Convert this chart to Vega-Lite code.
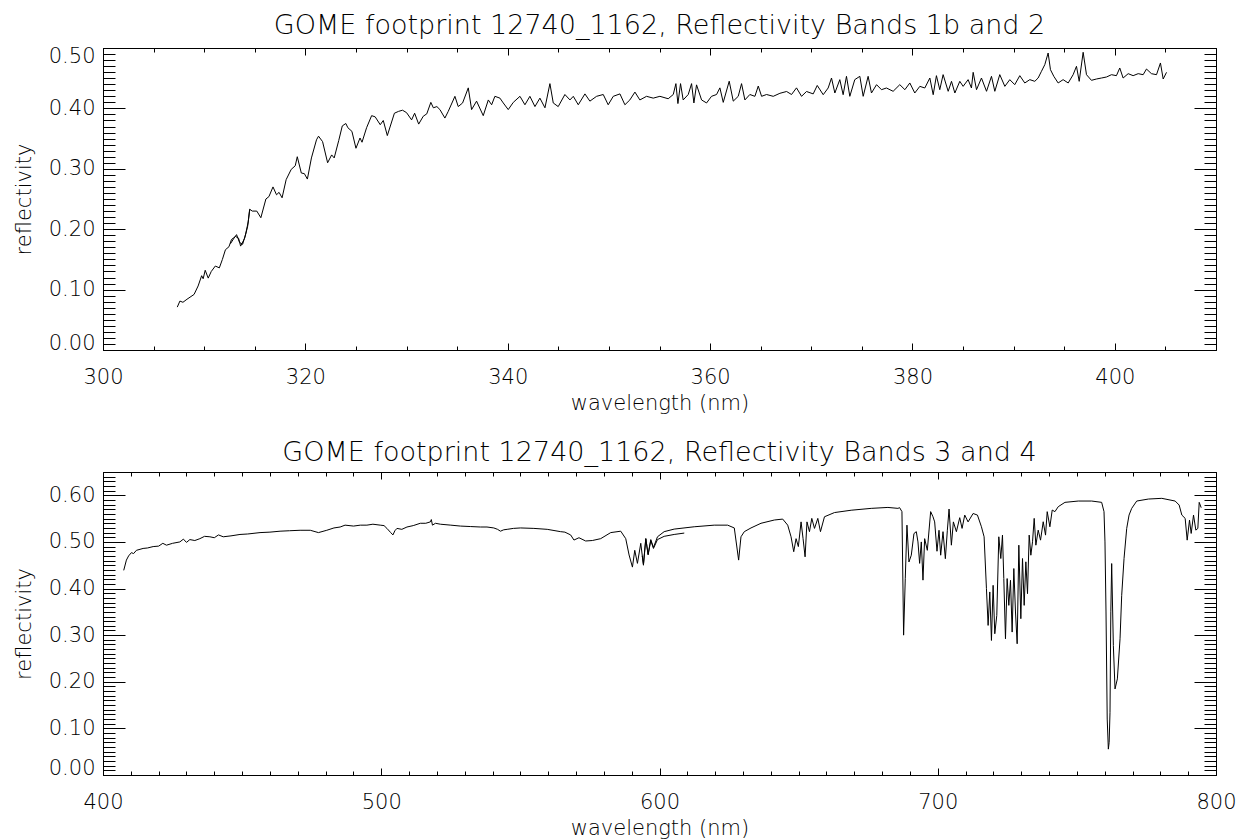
{
"$schema": "https://vega.github.io/schema/vega-lite/v6.json",
"padding": {"left": 12, "top": 11, "right": 0, "bottom": 0},
"background": "white",
"spacing": 24,
"config": {
  "view": {"stroke": "black", "strokeWidth": 1},
  "font": "DejaVu Sans",
  "title": {"fontSize": 27, "fontWeight": 200, "color": "black", "offset": 5, "font": "DejaVu Sans"},
  "axis": {"domain": false, "grid": false, "tickColor": "black", "tickWidth": 1, "labelColor": "black", "titleColor": "black", "labelFontSize": 21, "titleFontSize": 21, "labelFontWeight": 200, "titleFontWeight": 200, "labelFont": "DejaVu Sans", "titleFont": "DejaVu Sans", "labelOverlap": false},
  "line": {"color": "black", "strokeWidth": 1}
},
"datasets": {
  "top": [
    {"wl":307.34,"r":0.071,"band":"1b"},{"wl":307.6,"r":0.081,"band":"1b"},{"wl":307.9,"r":0.079,"band":"1b"},{"wl":308.3,"r":0.084,"band":"1b"},{"wl":309.0,"r":0.092,"band":"1b"},{"wl":309.4,"r":0.106,"band":"1b"},{"wl":309.75,"r":0.123,"band":"1b"},{"wl":309.9,"r":0.118,"band":"1b"},{"wl":310.1,"r":0.132,"band":"1b"},{"wl":310.4,"r":0.119,"band":"1b"},{"wl":310.7,"r":0.130,"band":"1b"},{"wl":311.1,"r":0.139,"band":"1b"},{"wl":311.5,"r":0.136,"band":"1b"},{"wl":311.8,"r":0.150,"band":"1b"},{"wl":312.1,"r":0.166,"band":"1b"},{"wl":312.45,"r":0.171,"band":"1b"},{"wl":312.7,"r":0.183,"band":"1b"},{"wl":313.1,"r":0.188,"band":"1b"},{"wl":313.4,"r":0.185,"band":"1b"},{"wl":313.6,"r":0.172,"band":"1b"},{"wl":314.0,"r":0.185,"band":"1b"},{"wl":314.3,"r":0.205,"band":"1b"},{"wl":314.5,"r":0.233,"band":"1b"},
    {"wl":312.6,"r":0.176,"band":"2"},{"wl":312.9,"r":0.184,"band":"2"},{"wl":313.2,"r":0.191,"band":"2"},{"wl":313.5,"r":0.178,"band":"2"},{"wl":313.8,"r":0.175,"band":"2"},{"wl":314.1,"r":0.192,"band":"2"},{"wl":314.35,"r":0.212,"band":"2"},{"wl":314.5,"r":0.233,"band":"2"},
    {"wl":314.75,"r":0.230,"band":"2"},{"wl":315.2,"r":0.230,"band":"2"},{"wl":315.6,"r":0.219,"band":"2"},{"wl":316.1,"r":0.250,"band":"2"},{"wl":316.4,"r":0.254,"band":"2"},{"wl":316.8,"r":0.270,"band":"2"},{"wl":317.15,"r":0.257,"band":"2"},{"wl":317.4,"r":0.261,"band":"2"},{"wl":317.7,"r":0.252,"band":"2"},{"wl":318.1,"r":0.282,"band":"2"},{"wl":318.6,"r":0.299,"band":"2"},{"wl":319.0,"r":0.305,"band":"2"},{"wl":319.2,"r":0.320,"band":"2"},{"wl":319.6,"r":0.293,"band":"2"},{"wl":319.9,"r":0.292,"band":"2"},{"wl":320.2,"r":0.283,"band":"2"},{"wl":320.6,"r":0.318,"band":"2"},{"wl":321.1,"r":0.348,"band":"2"},{"wl":321.3,"r":0.354,"band":"2"},{"wl":321.7,"r":0.345,"band":"2"},{"wl":322.2,"r":0.310,"band":"2"},{"wl":322.6,"r":0.323,"band":"2"},{"wl":322.85,"r":0.318,"band":"2"},{"wl":323.3,"r":0.347,"band":"2"},{"wl":323.65,"r":0.371,"band":"2"},{"wl":324.0,"r":0.375,"band":"2"},{"wl":324.2,"r":0.368,"band":"2"},{"wl":324.6,"r":0.362,"band":"2"},{"wl":325.0,"r":0.334,"band":"2"},{"wl":325.4,"r":0.351,"band":"2"},{"wl":325.6,"r":0.344,"band":"2"},{"wl":326.05,"r":0.368,"band":"2"},{"wl":326.55,"r":0.388,"band":"2"},{"wl":326.9,"r":0.386,"band":"2"},{"wl":327.4,"r":0.373,"band":"2"},{"wl":327.7,"r":0.380,"band":"2"},{"wl":328.1,"r":0.355,"band":"2"},{"wl":328.8,"r":0.392,"band":"2"},{"wl":329.2,"r":0.395,"band":"2"},{"wl":329.6,"r":0.397,"band":"2"},{"wl":330.0,"r":0.393,"band":"2"},{"wl":330.5,"r":0.381,"band":"2"},{"wl":330.8,"r":0.392,"band":"2"},{"wl":331.2,"r":0.374,"band":"2"},{"wl":331.65,"r":0.387,"band":"2"},{"wl":332.0,"r":0.391,"band":"2"},{"wl":332.4,"r":0.410,"band":"2"},{"wl":332.65,"r":0.401,"band":"2"},{"wl":333.0,"r":0.403,"band":"2"},{"wl":333.3,"r":0.398,"band":"2"},
    {"wl":333.79,"r":0.384,"band":"2"},{"wl":334.12,"r":0.395,"band":"2"},{"wl":334.78,"r":0.420,"band":"2"},{"wl":335.11,"r":0.403,"band":"2"},{"wl":335.54,"r":0.409,"band":"2"},{"wl":336.10,"r":0.434,"band":"2"},{"wl":336.43,"r":0.398,"band":"2"},{"wl":336.92,"r":0.412,"band":"2"},{"wl":337.58,"r":0.388,"band":"2"},{"wl":338.08,"r":0.414,"band":"2"},{"wl":338.41,"r":0.406,"band":"2"},{"wl":338.73,"r":0.420,"band":"2"},{"wl":339.23,"r":0.417,"band":"2"},{"wl":339.56,"r":0.409,"band":"2"},{"wl":340.05,"r":0.398,"band":"2"},{"wl":340.55,"r":0.410,"band":"2"},{"wl":341.21,"r":0.420,"band":"2"},{"wl":341.70,"r":0.406,"band":"2"},{"wl":342.19,"r":0.420,"band":"2"},{"wl":342.69,"r":0.403,"band":"2"},{"wl":343.18,"r":0.417,"band":"2"},{"wl":343.68,"r":0.401,"band":"2"},{"wl":344.17,"r":0.441,"band":"2"},{"wl":344.50,"r":0.409,"band":"2"},{"wl":344.99,"r":0.403,"band":"2"},{"wl":345.65,"r":0.423,"band":"2"},{"wl":346.15,"r":0.414,"band":"2"},{"wl":346.48,"r":0.420,"band":"2"},{"wl":346.97,"r":0.406,"band":"2"},{"wl":347.63,"r":0.424,"band":"2"},{"wl":348.12,"r":0.412,"band":"2"},{"wl":348.78,"r":0.420,"band":"2"},{"wl":349.44,"r":0.423,"band":"2"},{"wl":349.93,"r":0.406,"band":"2"},{"wl":350.43,"r":0.420,"band":"2"},{"wl":351.09,"r":0.424,"band":"2"},{"wl":351.58,"r":0.406,"band":"2"},{"wl":352.07,"r":0.414,"band":"2"},{"wl":352.57,"r":0.427,"band":"2"},{"wl":353.06,"r":0.414,"band":"2"},{"wl":353.72,"r":0.420,"band":"2"},{"wl":354.38,"r":0.417,"band":"2"},{"wl":355.04,"r":0.420,"band":"2"},{"wl":355.86,"r":0.416,"band":"2"},{"wl":356.36,"r":0.423,"band":"2"},{"wl":356.62,"r":0.441,"band":"2"},{"wl":356.82,"r":0.408,"band":"2"},{"wl":357.08,"r":0.441,"band":"2"},{"wl":357.34,"r":0.414,"band":"2"},{"wl":357.84,"r":0.423,"band":"2"},{"wl":358.17,"r":0.441,"band":"2"},{"wl":358.40,"r":0.409,"band":"2"},{"wl":358.66,"r":0.439,"band":"2"},{"wl":359.16,"r":0.414,"band":"2"},{"wl":359.65,"r":0.409,"band":"2"},{"wl":360.14,"r":0.420,"band":"2"},{"wl":360.64,"r":0.423,"band":"2"},{"wl":360.97,"r":0.434,"band":"2"},{"wl":361.30,"r":0.410,"band":"2"},{"wl":361.89,"r":0.445,"band":"2"},{"wl":362.29,"r":0.412,"band":"2"},{"wl":362.78,"r":0.420,"band":"2"},{"wl":363.11,"r":0.441,"band":"2"},{"wl":363.44,"r":0.414,"band":"2"},{"wl":363.93,"r":0.423,"band":"2"},{"wl":364.43,"r":0.420,"band":"2"},{"wl":364.76,"r":0.437,"band":"2"},{"wl":365.09,"r":0.420,"band":"2"},{"wl":365.58,"r":0.423,"band":"2"},{"wl":366.24,"r":0.420,"band":"2"},{"wl":366.90,"r":0.425,"band":"2"},{"wl":367.56,"r":0.428,"band":"2"},{"wl":368.05,"r":0.423,"band":"2"},{"wl":368.54,"r":0.434,"band":"2"},{"wl":369.04,"r":0.420,"band":"2"},{"wl":369.53,"r":0.428,"band":"2"},{"wl":370.19,"r":0.424,"band":"2"},{"wl":370.59,"r":0.438,"band":"2"},
    {"wl":371.18,"r":0.4227,"band":"2"},{"wl":371.67,"r":0.4338,"band":"2"},{"wl":372.00,"r":0.4503,"band":"2"},{"wl":372.33,"r":0.4255,"band":"2"},{"wl":372.82,"r":0.4476,"band":"2"},{"wl":373.15,"r":0.4227,"band":"2"},{"wl":373.48,"r":0.4531,"band":"2"},{"wl":373.81,"r":0.4200,"band":"2"},{"wl":374.30,"r":0.4476,"band":"2"},{"wl":374.80,"r":0.4531,"band":"2"},{"wl":375.13,"r":0.4200,"band":"2"},{"wl":375.62,"r":0.4531,"band":"2"},{"wl":375.95,"r":0.4255,"band":"2"},{"wl":376.45,"r":0.4393,"band":"2"},{"wl":376.94,"r":0.4310,"band":"2"},{"wl":377.43,"r":0.4338,"band":"2"},{"wl":378.09,"r":0.4283,"band":"2"},{"wl":378.75,"r":0.4393,"band":"2"},{"wl":379.25,"r":0.4310,"band":"2"},{"wl":379.74,"r":0.4421,"band":"2"},{"wl":380.23,"r":0.4255,"band":"2"},{"wl":380.73,"r":0.4365,"band":"2"},{"wl":381.22,"r":0.4338,"band":"2"},{"wl":381.72,"r":0.4503,"band":"2"},{"wl":382.05,"r":0.4227,"band":"2"},{"wl":382.37,"r":0.4542,"band":"2"},{"wl":382.70,"r":0.4310,"band":"2"},{"wl":383.03,"r":0.4559,"band":"2"},{"wl":383.53,"r":0.4283,"band":"2"},{"wl":383.86,"r":0.4448,"band":"2"},{"wl":384.19,"r":0.4255,"band":"2"},{"wl":384.68,"r":0.4448,"band":"2"},{"wl":385.01,"r":0.4365,"band":"2"},{"wl":385.50,"r":0.4476,"band":"2"},{"wl":385.83,"r":0.4338,"band":"2"},{"wl":386.00,"r":0.4597,"band":"2"},{"wl":386.33,"r":0.4310,"band":"2"},{"wl":386.82,"r":0.4503,"band":"2"},{"wl":387.32,"r":0.4283,"band":"2"},{"wl":387.81,"r":0.4531,"band":"2"},{"wl":388.14,"r":0.4283,"band":"2"},{"wl":388.63,"r":0.4559,"band":"2"},{"wl":389.13,"r":0.4365,"band":"2"},{"wl":389.62,"r":0.4476,"band":"2"},{"wl":390.11,"r":0.4393,"band":"2"},{"wl":390.61,"r":0.4542,"band":"2"},{"wl":391.10,"r":0.4421,"band":"2"},{"wl":391.60,"r":0.4476,"band":"2"},{"wl":392.09,"r":0.4448,"band":"2"},{"wl":392.42,"r":0.4503,"band":"2"},{"wl":392.75,"r":0.4614,"band":"2"},{"wl":393.08,"r":0.4724,"band":"2"},{"wl":393.41,"r":0.4917,"band":"2"},{"wl":393.64,"r":0.4641,"band":"2"},{"wl":393.97,"r":0.4531,"band":"2"},
    {"wl":394.40,"r":0.4421,"band":"2"},{"wl":394.89,"r":0.4476,"band":"2"},{"wl":395.39,"r":0.4421,"band":"2"},{"wl":395.88,"r":0.4558,"band":"2"},{"wl":396.21,"r":0.4697,"band":"2"},{"wl":396.48,"r":0.4448,"band":"2"},{"wl":396.87,"r":0.4929,"band":"2"},{"wl":397.20,"r":0.4558,"band":"2"},{"wl":397.69,"r":0.4465,"band":"2"},{"wl":398.19,"r":0.4487,"band":"2"},{"wl":398.68,"r":0.4503,"band":"2"},{"wl":399.18,"r":0.4520,"band":"2"},{"wl":399.67,"r":0.4558,"band":"2"},{"wl":400.16,"r":0.4542,"band":"2"},{"wl":400.49,"r":0.4669,"band":"2"},{"wl":400.82,"r":0.4503,"band":"2"},{"wl":401.32,"r":0.4575,"band":"2"},{"wl":401.81,"r":0.4542,"band":"2"},{"wl":402.31,"r":0.4575,"band":"2"},{"wl":402.80,"r":0.4558,"band":"2"},{"wl":403.13,"r":0.4652,"band":"2"},{"wl":403.62,"r":0.4575,"band":"2"},{"wl":404.12,"r":0.4558,"band":"2"},{"wl":404.51,"r":0.4752,"band":"2"},{"wl":404.78,"r":0.4487,"band":"2"},{"wl":405.11,"r":0.4597,"band":"2"}
  ],
  "bot": [
    {"wl":407.45,"r":0.439,"band":"3"},{"wl":408.41,"r":0.461,"band":"3"},{"wl":409.2,"r":0.470,"band":"3"},{"wl":410.21,"r":0.477,"band":"3"},{"wl":411.0,"r":0.475,"band":"3"},{"wl":412.01,"r":0.482,"band":"3"},{"wl":414.41,"r":0.486,"band":"3"},{"wl":416.0,"r":0.487,"band":"3"},{"wl":418.02,"r":0.490,"band":"3"},{"wl":420.0,"r":0.491,"band":"3"},{"wl":421.5,"r":0.497,"band":"3"},{"wl":422.82,"r":0.493,"band":"3"},{"wl":425.0,"r":0.497,"band":"3"},{"wl":427.62,"r":0.500,"band":"3"},{"wl":428.9,"r":0.506,"band":"3"},{"wl":430.0,"r":0.499,"band":"3"},{"wl":431.22,"r":0.505,"band":"3"},{"wl":433.0,"r":0.503,"band":"3"},{"wl":434.82,"r":0.507,"band":"3"},{"wl":436.5,"r":0.512,"band":"3"},{"wl":438.42,"r":0.511,"band":"3"},{"wl":440.0,"r":0.509,"band":"3"},{"wl":441.5,"r":0.515,"band":"3"},{"wl":443.22,"r":0.511,"band":"3"},{"wl":446.0,"r":0.513,"band":"3"},{"wl":449.23,"r":0.516,"band":"3"},{"wl":452.0,"r":0.517,"band":"3"},{"wl":456.43,"r":0.520,"band":"3"},{"wl":460.0,"r":0.521,"band":"3"},{"wl":463.63,"r":0.523,"band":"3"},{"wl":467.0,"r":0.524,"band":"3"},{"wl":470.83,"r":0.525,"band":"3"},{"wl":474.5,"r":0.525,"band":"3"},{"wl":477.43,"r":0.520,"band":"3"},{"wl":480.43,"r":0.525,"band":"3"},{"wl":483.0,"r":0.530,"band":"3"},{"wl":485.23,"r":0.532,"band":"3"},{"wl":487.0,"r":0.536,"band":"3"},{"wl":490.04,"r":0.534,"band":"3"},{"wl":492.5,"r":0.536,"band":"3"},{"wl":494.84,"r":0.536,"band":"3"},{"wl":497.0,"r":0.538,"band":"3"},{"wl":499.64,"r":0.536,"band":"3"},{"wl":501.0,"r":0.535,"band":"3"},{"wl":502.04,"r":0.529,"band":"3"},{"wl":503.4,"r":0.520,"band":"3"},{"wl":504.2,"r":0.515,"band":"3"},{"wl":504.9,"r":0.524,"band":"3"},{"wl":505.64,"r":0.529,"band":"3"},{"wl":507.4,"r":0.527,"band":"3"},{"wl":509.24,"r":0.532,"band":"3"},{"wl":511.5,"r":0.535,"band":"3"},{"wl":514.04,"r":0.540,"band":"3"},{"wl":516.0,"r":0.540,"band":"3"},{"wl":517.64,"r":0.543,"band":"3"},{"wl":518.0,"r":0.548,"band":"3"},{"wl":518.4,"r":0.536,"band":"3"},{"wl":519.5,"r":0.540,"band":"3"},{"wl":521.25,"r":0.538,"band":"3"},{"wl":525.0,"r":0.536,"band":"3"},{"wl":528.45,"r":0.534,"band":"3"},{"wl":532.0,"r":0.533,"band":"3"},{"wl":535.65,"r":0.532,"band":"3"},{"wl":538.0,"r":0.532,"band":"3"},{"wl":540.45,"r":0.530,"band":"3"},{"wl":541.8,"r":0.527,"band":"3"},{"wl":542.85,"r":0.523,"band":"3"},{"wl":544.0,"r":0.526,"band":"3"},{"wl":545.25,"r":0.527,"band":"3"},{"wl":547.5,"r":0.529,"band":"3"},{"wl":550.05,"r":0.530,"band":"3"},{"wl":554.85,"r":0.529,"band":"3"},{"wl":559.65,"r":0.527,"band":"3"},{"wl":564.46,"r":0.522,"band":"3"},{"wl":566.0,"r":0.521,"band":"3"},{"wl":568.06,"r":0.515,"band":"3"},{"wl":569.26,"r":0.504,"band":"3"},{"wl":571.06,"r":0.509,"band":"3"},{"wl":573.46,"r":0.502,"band":"3"},{"wl":575.86,"r":0.503,"band":"3"},{"wl":578.86,"r":0.507,"band":"3"},{"wl":582.47,"r":0.520,"band":"3"},{"wl":586.07,"r":0.523,"band":"3"},{"wl":587.87,"r":0.507,"band":"3"},{"wl":589.07,"r":0.472,"band":"3"},{"wl":590.27,"r":0.446,"band":"3"},{"wl":591.11,"r":0.482,"band":"3"},{"wl":592.07,"r":0.454,"band":"3"},{"wl":593.27,"r":0.497,"band":"3"},{"wl":594.23,"r":0.450,"band":"3"},{"wl":595.07,"r":0.507,"band":"3"},{"wl":595.91,"r":0.472,"band":"3"},{"wl":596.87,"r":0.503,"band":"3"},{"wl":597.83,"r":0.486,"band":"3"},{"wl":599.27,"r":0.505,"band":"3"},{"wl":601.67,"r":0.512,"band":"3"},{"wl":605.27,"r":0.516,"band":"3"},{"wl":608.9,"r":0.519,"band":"3"},
    {"wl":593.8,"r":0.470,"band":"4"},{"wl":594.23,"r":0.452,"band":"4"},{"wl":595.07,"r":0.507,"band":"4"},{"wl":595.91,"r":0.474,"band":"4"},{"wl":596.87,"r":0.505,"band":"4"},{"wl":597.83,"r":0.488,"band":"4"},{"wl":599.27,"r":0.511,"band":"4"},{"wl":601.67,"r":0.522,"band":"4"},{"wl":605.27,"r":0.5275,"band":"4"},{"wl":612.47,"r":0.5325,"band":"4"},{"wl":619.67,"r":0.536,"band":"4"},{"wl":624.48,"r":0.536,"band":"4"},{"wl":626.88,"r":0.530,"band":"4"},{"wl":628.44,"r":0.461,"band":"4"},{"wl":629.28,"r":0.511,"band":"4"},{"wl":630.48,"r":0.522,"band":"4"},{"wl":632.88,"r":0.530,"band":"4"},{"wl":636.48,"r":0.540,"band":"4"},{"wl":641.28,"r":0.547,"band":"4"},{"wl":644.28,"r":0.549,"band":"4"},{"wl":646.08,"r":0.536,"band":"4"},{"wl":647.28,"r":0.511,"band":"4"},{"wl":648.24,"r":0.479,"band":"4"},{"wl":649.08,"r":0.507,"band":"4"},{"wl":649.9,"r":0.490,"band":"4"},{"wl":650.88,"r":0.543,"band":"4"},{"wl":651.6,"r":0.507,"band":"4"},{"wl":652.32,"r":0.468,"band":"4"},{"wl":653.0,"r":0.543,"band":"4"},{"wl":653.9,"r":0.522,"band":"4"},{"wl":654.73,"r":0.5505,"band":"4"},{"wl":655.7,"r":0.529,"band":"4"},{"wl":656.9,"r":0.5505,"band":"4"},{"wl":657.85,"r":0.522,"band":"4"},{"wl":659.29,"r":0.554,"band":"4"},{"wl":662.89,"r":0.563,"band":"4"},{"wl":668.89,"r":0.568,"band":"4"},{"wl":676.09,"r":0.572,"band":"4"},{"wl":682.09,"r":0.574,"band":"4"},{"wl":685.69,"r":0.572,"band":"4"},{"wl":686.29,"r":0.5735,"band":"4"},{"wl":687.13,"r":0.565,"band":"4"},{"wl":687.73,"r":0.300,"band":"4"},{"wl":688.33,"r":0.421,"band":"4"},{"wl":688.93,"r":0.536,"band":"4"},{"wl":689.65,"r":0.457,"band":"4"},{"wl":690.49,"r":0.4715,"band":"4"},{"wl":691.45,"r":0.518,"band":"4"},{"wl":692.29,"r":0.522,"band":"4"},{"wl":692.89,"r":0.500,"band":"4"},{"wl":693.49,"r":0.454,"band":"4"},{"wl":694.09,"r":0.500,"band":"4"},{"wl":694.69,"r":0.418,"band":"4"},{"wl":695.29,"r":0.507,"band":"4"},{"wl":696.25,"r":0.482,"band":"4"},{"wl":697.45,"r":0.565,"band":"4"},{"wl":698.29,"r":0.554,"band":"4"},{"wl":698.89,"r":0.543,"band":"4"},{"wl":699.73,"r":0.480,"band":"4"},{"wl":700.45,"r":0.525,"band":"4"},{"wl":701.05,"r":0.4715,"band":"4"},{"wl":701.89,"r":0.522,"band":"4"},{"wl":702.73,"r":0.464,"band":"4"},{"wl":703.45,"r":0.525,"band":"4"},{"wl":704.06,"r":0.5705,"band":"4"},{"wl":704.90,"r":0.493,"band":"4"},{"wl":705.62,"r":0.543,"band":"4"},{"wl":706.70,"r":0.522,"band":"4"},{"wl":707.90,"r":0.552,"band":"4"},{"wl":708.74,"r":0.529,"band":"4"},{"wl":709.70,"r":0.5576,"band":"4"},{"wl":710.90,"r":0.543,"band":"4"},{"wl":712.70,"r":0.561,"band":"4"},{"wl":714.26,"r":0.5576,"band":"4"},{"wl":715.70,"r":0.5325,"band":"4"},{"wl":716.66,"r":0.511,"band":"4"},{"wl":717.50,"r":0.3998,"band":"4"},{"wl":718.10,"r":0.3209,"band":"4"},{"wl":718.70,"r":0.3927,"band":"4"},{"wl":719.30,"r":0.2886,"band":"4"},{"wl":719.90,"r":0.4069,"band":"4"},{"wl":720.50,"r":0.303,"band":"4"},{"wl":721.22,"r":0.3424,"band":"4"},{"wl":721.94,"r":0.511,"band":"4"},{"wl":722.66,"r":0.4644,"band":"4"},{"wl":723.26,"r":0.5146,"band":"4"},{"wl":723.74,"r":0.4214,"band":"4"},{"wl":724.34,"r":0.2922,"band":"4"},{"wl":724.94,"r":0.4214,"band":"4"},{"wl":725.54,"r":0.3639,"band":"4"},{"wl":726.14,"r":0.4177,"band":"4"},{"wl":726.74,"r":0.3066,"band":"4"},{"wl":727.34,"r":0.4429,"band":"4"},{"wl":727.94,"r":0.3497,"band":"4"},{"wl":728.54,"r":0.2815,"band":"4"},{"wl":729.14,"r":0.493,"band":"4"},{"wl":729.86,"r":0.3353,"band":"4"},{"wl":730.46,"r":0.4644,"band":"4"},{"wl":731.06,"r":0.3639,"band":"4"},{"wl":731.66,"r":0.4573,"band":"4"},{"wl":732.26,"r":0.389,"band":"4"},{"wl":732.86,"r":0.5146,"band":"4"},{"wl":733.46,"r":0.4715,"band":"4"},{"wl":734.06,"r":0.5003,"band":"4"},{"wl":734.66,"r":0.5505,"band":"4"},{"wl":735.26,"r":0.493,"band":"4"},{"wl":736.10,"r":0.5253,"band":"4"},{"wl":736.94,"r":0.5038,"band":"4"},{"wl":737.90,"r":0.5433,"band":"4"},{"wl":738.74,"r":0.5146,"band":"4"},{"wl":739.34,"r":0.5649,"band":"4"},{"wl":740.30,"r":0.5325,"band":"4"},{"wl":741.14,"r":0.5684,"band":"4"},{"wl":742.10,"r":0.5649,"band":"4"},{"wl":743.31,"r":0.5756,"band":"4"},{"wl":745.71,"r":0.5849,"band":"4"},{"wl":750.51,"r":0.5877,"band":"4"},{"wl":755.31,"r":0.5877,"band":"4"},{"wl":758.91,"r":0.5849,"band":"4"},{"wl":759.75,"r":0.5649,"band":"4"},{"wl":760.1,"r":0.50,"band":"4"},{"wl":760.47,"r":0.3497,"band":"4"},{"wl":760.9,"r":0.12,"band":"4"},{"wl":761.31,"r":0.0555,"band":"4"},{"wl":761.6,"r":0.07,"band":"4"},{"wl":761.91,"r":0.1345,"band":"4"},{"wl":762.2,"r":0.35,"band":"4"},{"wl":762.51,"r":0.4536,"band":"4"},{"wl":763.11,"r":0.2778,"band":"4"},{"wl":763.71,"r":0.1846,"band":"4"},{"wl":764.55,"r":0.2062,"band":"4"},{"wl":765.51,"r":0.2922,"band":"4"},{"wl":766.11,"r":0.3854,"band":"4"},{"wl":766.95,"r":0.4644,"band":"4"},{"wl":767.91,"r":0.529,"band":"4"},{"wl":768.75,"r":0.5576,"band":"4"},{"wl":769.71,"r":0.572,"band":"4"},{"wl":771.51,"r":0.5877,"band":"4"},{"wl":775.72,"r":0.592,"band":"4"},{"wl":780.52,"r":0.5935,"band":"4"},{"wl":785.32,"r":0.5877,"band":"4"},{"wl":786.76,"r":0.5791,"band":"4"},{"wl":787.72,"r":0.5576,"band":"4"},{"wl":788.92,"r":0.5505,"band":"4"},{"wl":789.64,"r":0.5038,"band":"4"},{"wl":790.48,"r":0.5468,"band":"4"},{"wl":791.08,"r":0.5182,"band":"4"},{"wl":791.92,"r":0.5576,"band":"4"},{"wl":792.76,"r":0.5253,"band":"4"},{"wl":793.48,"r":0.529,"band":"4"},{"wl":793.96,"r":0.5849,"band":"4"},{"wl":794.68,"r":0.5735,"band":"4"}
  ]
},
"vconcat": [
  {
    "title": "GOME footprint 12740_1162, Reflectivity Bands 1b and 2",
    "width": 1113, "height": 302,
    "data": {"name": "top"},
    "resolve": {"axis": {"x": "independent", "y": "independent"}},
    "layer": [
      {"mark": {"type": "line"},
       "encoding": {
         "x": {"field": "wl", "type": "quantitative", "scale": {"domain": [300, 410], "nice": false, "zero": false},
               "axis": {"orient": "bottom", "values": [300,320,340,360,380,400], "format": "d", "tickSize": 7, "offset": -7, "labelPadding": 16, "labelFlush": false, "title": "wavelength (nm)", "titlePadding": 5}},
         "y": {"field": "r", "type": "quantitative", "scale": {"domain": [0, 0.5], "nice": false, "zero": false},
               "axis": {"orient": "left", "values": [0,0.1,0.2,0.3,0.4,0.5], "format": ".2f", "tickSize": 22, "offset": -22, "labelPadding": 8, "labelFlush": true, "labelFlushOffset": 3, "title": "reflectivity", "titlePadding": 14}},
         "detail": {"field": "band", "type": "nominal"}}},
      {"mark": {"type": "line", "opacity": 0},
       "encoding": {
         "x": {"field": "wl", "type": "quantitative", "axis": {"orient": "top", "values": [300,320,340,360,380,400], "tickSize": 7, "offset": -7, "labels": false, "title": null}},
         "y": {"field": "r", "type": "quantitative", "axis": {"orient": "right", "values": [0,0.1,0.2,0.3,0.4,0.5], "tickSize": 22, "offset": -22, "labels": false, "title": null}},
         "detail": {"field": "band", "type": "nominal"}}},
      {"mark": {"type": "line", "opacity": 0},
       "encoding": {
         "x": {"field": "wl", "type": "quantitative", "axis": {"orient": "bottom", "values": [300,305,310,315,320,325,330,335,340,345,350,355,360,365,370,375,380,385,390,395,400,405,410], "tickSize": 4, "offset": -4, "labels": false, "title": null}},
         "y": {"field": "r", "type": "quantitative", "axis": {"orient": "left", "values": [0,0.01,0.02,0.03,0.04,0.05,0.06,0.07,0.08,0.09,0.1,0.11,0.12,0.13,0.14,0.15,0.16,0.17,0.18,0.19,0.2,0.21,0.22,0.23,0.24,0.25,0.26,0.27,0.28,0.29,0.3,0.31,0.32,0.33,0.34,0.35,0.36,0.37,0.38,0.39,0.4,0.41,0.42,0.43,0.44,0.45,0.46,0.47,0.48,0.49,0.5], "tickSize": 12, "offset": -12, "labels": false, "title": null}},
         "detail": {"field": "band", "type": "nominal"}}},
      {"mark": {"type": "line", "opacity": 0},
       "encoding": {
         "x": {"field": "wl", "type": "quantitative", "axis": {"orient": "top", "values": [300,305,310,315,320,325,330,335,340,345,350,355,360,365,370,375,380,385,390,395,400,405,410], "tickSize": 4, "offset": -4, "labels": false, "title": null}},
         "y": {"field": "r", "type": "quantitative", "axis": {"orient": "right", "values": [0,0.01,0.02,0.03,0.04,0.05,0.06,0.07,0.08,0.09,0.1,0.11,0.12,0.13,0.14,0.15,0.16,0.17,0.18,0.19,0.2,0.21,0.22,0.23,0.24,0.25,0.26,0.27,0.28,0.29,0.3,0.31,0.32,0.33,0.34,0.35,0.36,0.37,0.38,0.39,0.4,0.41,0.42,0.43,0.44,0.45,0.46,0.47,0.48,0.49,0.5], "tickSize": 12, "offset": -12, "labels": false, "title": null}},
         "detail": {"field": "band", "type": "nominal"}}}
    ]
  },
  {
    "title": "GOME footprint 12740_1162, Reflectivity Bands 3 and 4",
    "width": 1113, "height": 303,
    "data": {"name": "bot"},
    "resolve": {"axis": {"x": "independent", "y": "independent"}},
    "layer": [
      {"mark": {"type": "line"},
       "encoding": {
         "x": {"field": "wl", "type": "quantitative", "scale": {"domain": [400, 800], "nice": false, "zero": false},
               "axis": {"orient": "bottom", "values": [400,500,600,700,800], "format": "d", "tickSize": 7, "offset": -7, "labelPadding": 16, "labelFlush": false, "title": "wavelength (nm)", "titlePadding": 5}},
         "y": {"field": "r", "type": "quantitative", "scale": {"domain": [0, 0.65], "nice": false, "zero": false},
               "axis": {"orient": "left", "values": [0,0.1,0.2,0.3,0.4,0.5,0.6], "format": ".2f", "tickSize": 22, "offset": -22, "labelPadding": 8, "labelFlush": true, "labelFlushOffset": 3, "title": "reflectivity", "titlePadding": 14}},
         "detail": {"field": "band", "type": "nominal"}}},
      {"mark": {"type": "line", "opacity": 0},
       "encoding": {
         "x": {"field": "wl", "type": "quantitative", "axis": {"orient": "top", "values": [400,500,600,700,800], "tickSize": 7, "offset": -7, "labels": false, "title": null}},
         "y": {"field": "r", "type": "quantitative", "axis": {"orient": "right", "values": [0,0.1,0.2,0.3,0.4,0.5,0.6], "tickSize": 22, "offset": -22, "labels": false, "title": null}},
         "detail": {"field": "band", "type": "nominal"}}},
      {"mark": {"type": "line", "opacity": 0},
       "encoding": {
         "x": {"field": "wl", "type": "quantitative", "axis": {"orient": "bottom", "values": [400,410,420,430,440,450,460,470,480,490,500,510,520,530,540,550,560,570,580,590,600,610,620,630,640,650,660,670,680,690,700,710,720,730,740,750,760,770,780,790,800], "tickSize": 4, "offset": -4, "labels": false, "title": null}},
         "y": {"field": "r", "type": "quantitative", "axis": {"orient": "left", "values": [0,0.01,0.02,0.03,0.04,0.05,0.06,0.07,0.08,0.09,0.1,0.11,0.12,0.13,0.14,0.15,0.16,0.17,0.18,0.19,0.2,0.21,0.22,0.23,0.24,0.25,0.26,0.27,0.28,0.29,0.3,0.31,0.32,0.33,0.34,0.35,0.36,0.37,0.38,0.39,0.4,0.41,0.42,0.43,0.44,0.45,0.46,0.47,0.48,0.49,0.5,0.51,0.52,0.53,0.54,0.55,0.56,0.57,0.58,0.59,0.6,0.61,0.62,0.63,0.64,0.65], "tickSize": 12, "offset": -12, "labels": false, "title": null}},
         "detail": {"field": "band", "type": "nominal"}}},
      {"mark": {"type": "line", "opacity": 0},
       "encoding": {
         "x": {"field": "wl", "type": "quantitative", "axis": {"orient": "top", "values": [400,410,420,430,440,450,460,470,480,490,500,510,520,530,540,550,560,570,580,590,600,610,620,630,640,650,660,670,680,690,700,710,720,730,740,750,760,770,780,790,800], "tickSize": 4, "offset": -4, "labels": false, "title": null}},
         "y": {"field": "r", "type": "quantitative", "axis": {"orient": "right", "values": [0,0.01,0.02,0.03,0.04,0.05,0.06,0.07,0.08,0.09,0.1,0.11,0.12,0.13,0.14,0.15,0.16,0.17,0.18,0.19,0.2,0.21,0.22,0.23,0.24,0.25,0.26,0.27,0.28,0.29,0.3,0.31,0.32,0.33,0.34,0.35,0.36,0.37,0.38,0.39,0.4,0.41,0.42,0.43,0.44,0.45,0.46,0.47,0.48,0.49,0.5,0.51,0.52,0.53,0.54,0.55,0.56,0.57,0.58,0.59,0.6,0.61,0.62,0.63,0.64,0.65], "tickSize": 12, "offset": -12, "labels": false, "title": null}},
         "detail": {"field": "band", "type": "nominal"}}}
    ]
  }
]
}
